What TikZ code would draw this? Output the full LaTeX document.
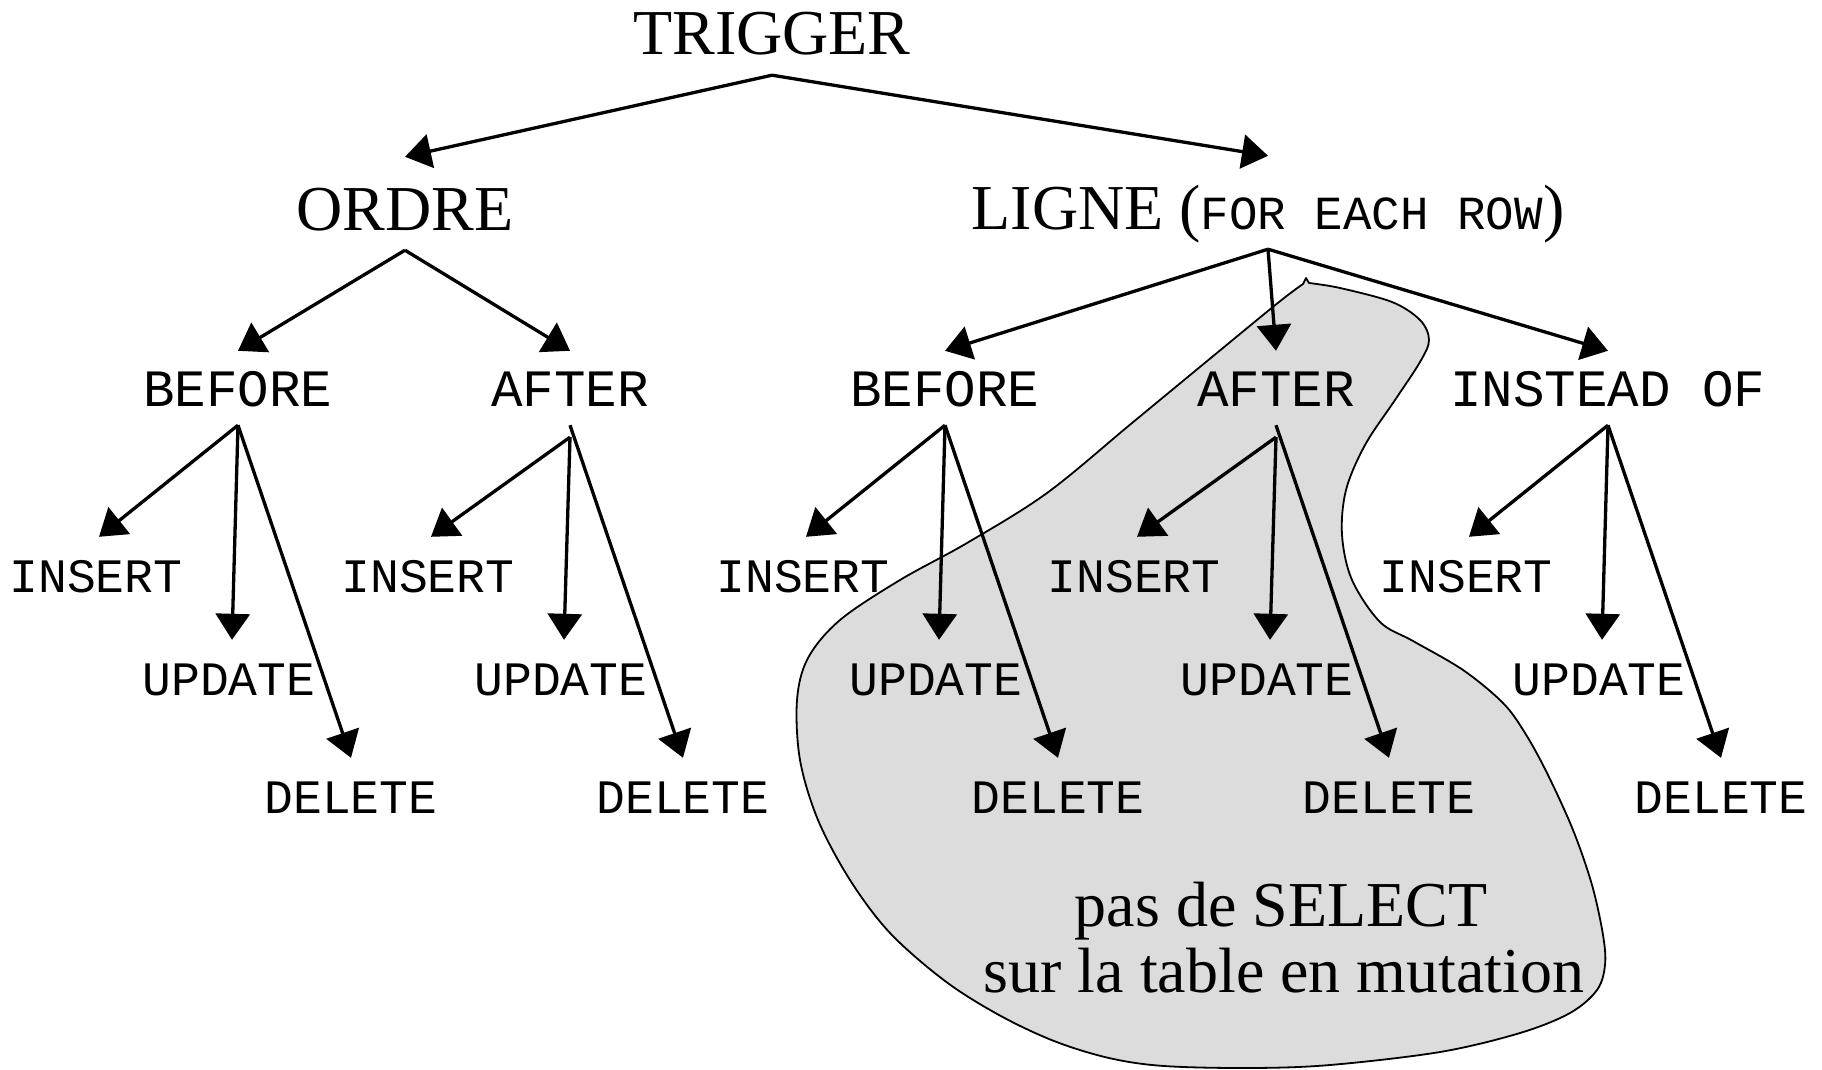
\documentclass[tikz,border=0pt]{standalone}
\usepackage{fontspec}
\setmainfont{Liberation Serif}
\setmonofont{Liberation Mono}
\usetikzlibrary{arrows.meta}
\definecolor{blobgray}{RGB}{220,220,220}
\begin{document}
\begin{tikzpicture}[x=1pt,y=-1pt,
  arr/.style={line width=3.3pt, -{Triangle[length=26pt,width=34pt]}},
  big/.style={font=\fontsize{64}{64}\selectfont, inner sep=0pt, text height=73pt, text depth=20pt, anchor=base},
  kw/.style={font=\fontsize{48}{48}\selectfont\ttfamily, inner sep=0pt, text height=55pt, text depth=19pt, anchor=base},
  kwtop/.style={kw, font=\fontsize{52.5}{52.5}\selectfont\ttfamily},
  note/.style={font=\fontsize{64}{64}\selectfont, inner sep=0pt, anchor=base},
  blob/.style={fill=blobgray, draw=black, line width=1.8pt, line join=round}]
\useasboundingbox (0,0) rectangle (1822,1070);

% mutating-table region
\draw[blob] plot[smooth, tension=0.55] coordinates {
  (1309,283) (1340,288) (1392,302) (1420,320) (1429,340) (1420,362) (1395,400)
  (1365,445) (1346,490) (1342,535) (1352,580) (1380,622) (1413,641) (1463,670)
  (1503,703) (1525,733) (1547,773) (1573,830) (1592,885) (1603,935) (1605,965)
  (1597,990) (1570,1013) (1520,1033) (1440,1052) (1330,1065) (1250,1068)
  (1164,1066) (1109,1058) (1054,1041) (999,1015) (945,981) (890,933) (850,880)
  (818,820) (800,760) (797,700) (808,658) (840,620) (900,580) (967,543)
  (1047,493) (1132,423) (1212,357) (1279,302) (1303,284)}
  -- (1306,278) -- cycle;

% top levels
\node[big] (trig) at (772,55) {TRIGGER};
\node[big] (ordre) at (405,230) {ORDRE};
\node[big] (ligne) at (1268,229) {LIGNE (\fontsize{47.5}{47.5}\selectfont\ttfamily FOR EACH ROW\fontsize{64}{64}\selectfont\rmfamily)};

% timing level
\node[kwtop] (bl) at (238,406) {BEFORE};
\node[kwtop] (al) at (570,406) {AFTER};
\node[kwtop] (br) at (945,406) {BEFORE};
\node[kwtop] (ar) at (1276,406) {AFTER};
\node[kwtop] (io) at (1608,406) {INSTEAD OF};

% events
\node[kw] (bl-i) at (96,592) {INSERT};
\node[kw] (bl-u) at (229,695) {UPDATE};
\node[kw] (bl-d) at (351,813) {DELETE};
\node[kw] (al-i) at (428,592) {INSERT};
\node[kw] (al-u) at (561,695) {UPDATE};
\node[kw] (al-d) at (683,813) {DELETE};
\node[kw] (br-i) at (803,592) {INSERT};
\node[kw] (br-u) at (936,695) {UPDATE};
\node[kw] (br-d) at (1058,813) {DELETE};
\node[kw] (ar-i) at (1134,592) {INSERT};
\node[kw] (ar-u) at (1267,695) {UPDATE};
\node[kw] (ar-d) at (1389,813) {DELETE};
\node[kw] (io-i) at (1466,592) {INSERT};
\node[kw] (io-u) at (1599,695) {UPDATE};
\node[kw] (io-d) at (1721,813) {DELETE};

% note
\node[note] (pas) at (1281,926) {pas de SELECT};
\node[note] (sur) at (1284,992) {sur la table en mutation};

% connectors
\draw[arr] (trig.south) -- (ordre.north);
\draw[arr] (trig.south) -- (ligne.north);
\draw[arr] (ordre.south) -- (bl.north);
\draw[arr] (ordre.south) -- (al.north);
\draw[arr] (ligne.south) -- (br.north);
\draw[arr] (ligne.south) -- (ar.north);
\draw[arr] (ligne.south) -- (io.north);

\draw[arr] (bl.south) -- ([xshift=3pt]bl-i.north);
\draw[arr] (bl.south) -- ([xshift=3pt]bl-u.north);
\draw[arr] (bl.south) -- (bl-d.north);
\draw[arr] ([yshift=-12pt]al.south) -- ([xshift=3pt]al-i.north);
\draw[arr] ([yshift=-12pt]al.south) -- ([xshift=3pt]al-u.north);
\draw[arr] (al.south) -- (al-d.north);
\draw[arr] (br.south) -- ([xshift=3pt]br-i.north);
\draw[arr] (br.south) -- ([xshift=3pt]br-u.north);
\draw[arr] (br.south) -- (br-d.north);
\draw[arr] ([yshift=-12pt]ar.south) -- ([xshift=3pt]ar-i.north);
\draw[arr] ([yshift=-12pt]ar.south) -- ([xshift=3pt]ar-u.north);
\draw[arr] (ar.south) -- (ar-d.north);
\draw[arr] (io.south) -- ([xshift=3pt]io-i.north);
\draw[arr] (io.south) -- ([xshift=3pt]io-u.north);
\draw[arr] (io.south) -- (io-d.north);
\end{tikzpicture}
\end{document}
